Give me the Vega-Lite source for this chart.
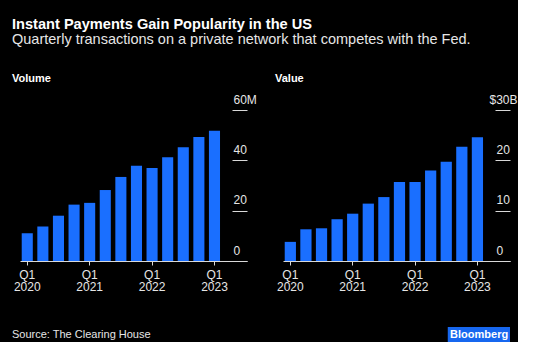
{
  "$schema": "https://vega.github.io/schema/vega-lite/v6.json",
  "background": "black",
  "padding": {"left": 12, "top": 17, "right": 0, "bottom": 0},
  "config": {
    "font": "Liberation Sans",
    "view": {"stroke": null},
    "title": {"color": "white", "font": "Liberation Sans"}
  },
  "title": {
    "text": "Instant Payments Gain Popularity in the US",
    "subtitle": "Quarterly transactions on a private network that competes with the Fed.",
    "anchor": "start",
    "frame": "group",
    "dx": -8,
    "fontSize": 14.6,
    "fontWeight": "bold",
    "color": "white",
    "subtitleFontSize": 14.5,
    "subtitleColor": "#e6e6e6",
    "subtitleFont": "Liberation Sans",
    "subtitlePadding": 1,
    "offset": 26.7
  },
  "datasets": {
    "payments": [
      {"quarter": "Q1 2020", "volume": 11.0, "value": 3.8},
      {"quarter": "Q2 2020", "volume": 13.7, "value": 6.3},
      {"quarter": "Q3 2020", "volume": 18.0, "value": 6.5},
      {"quarter": "Q4 2020", "volume": 22.4, "value": 8.3},
      {"quarter": "Q1 2021", "volume": 23.1, "value": 9.4},
      {"quarter": "Q2 2021", "volume": 28.2, "value": 11.4},
      {"quarter": "Q3 2021", "volume": 33.4, "value": 12.7},
      {"quarter": "Q4 2021", "volume": 37.8, "value": 15.7},
      {"quarter": "Q1 2022", "volume": 37.0, "value": 15.7},
      {"quarter": "Q2 2022", "volume": 41.2, "value": 18.0},
      {"quarter": "Q3 2022", "volume": 45.2, "value": 19.7},
      {"quarter": "Q4 2022", "volume": 49.3, "value": 22.7},
      {"quarter": "Q1 2023", "volume": 51.8, "value": 24.6}
    ],
    "source": [{"label": "Source: The Clearing House"}],
    "logo": [{"label": "Bloomberg"}]
  },
  "vconcat": [
    {
      "hconcat": [
        {
          "data": {"name": "payments"},
          "width": 227,
          "height": 151,
          "title": {"text": "Volume", "anchor": "start", "frame": "group", "dx": -8, "fontSize": 11, "fontWeight": "bold", "color": "white", "offset": 9},
          "mark": {"type": "bar", "color": "#1a6fff"},
          "encoding": {
            "x": {
              "field": "quarter", "type": "ordinal", "sort": null,
              "scale": {"paddingInner": 0.29, "paddingOuter": 0.92, "align": 0.06},
              "axis": {
                "title": null, "domain": false, "labelAngle": 0,
                "values": ["Q1 2020", "Q1 2021", "Q1 2022", "Q1 2023"],
                "labelExpr": "split(datum.label, ' ')",
                "tickSize": 4, "tickColor": "#d9d9d9", "labelPadding": 4,
                "labelFontSize": 12, "labelColor": "#e6e6e6", "labelLineHeight": 12.5
              }
            },
            "y": {
              "field": "volume", "type": "quantitative",
              "scale": {"domain": [0, 60]},
              "axis": {
                "title": null, "orient": "right", "offset": -15, "values": [0, 20, 40, 60],
                "domain": false, "tickSize": 15, "tickColor": "#d9d9d9",
                "labelAlign": "left", "labelBaseline": "bottom", "labelPadding": -14, "labelOffset": -4,
                "labelExpr": "datum.value == 60 ? '60M' : datum.label",
                "labelFontSize": 12, "labelColor": "#e6e6e6",
                "grid": true, "gridColor": "#d9d9d9",
                "gridOpacity": {"condition": {"test": "datum.value === 0", "value": 1}, "value": 0}
              }
            }
          }
        },
        {
          "data": {"name": "payments"},
          "width": 227,
          "height": 151,
          "title": {"text": "Value", "anchor": "start", "frame": "group", "dx": -8, "fontSize": 11, "fontWeight": "bold", "color": "white", "offset": 9},
          "mark": {"type": "bar", "color": "#1a6fff"},
          "encoding": {
            "x": {
              "field": "quarter", "type": "ordinal", "sort": null,
              "scale": {"paddingInner": 0.28, "paddingOuter": 0.92, "align": 0.06},
              "axis": {
                "title": null, "domain": false, "labelAngle": 0,
                "values": ["Q1 2020", "Q1 2021", "Q1 2022", "Q1 2023"],
                "labelExpr": "split(datum.label, ' ')",
                "tickSize": 4, "tickColor": "#d9d9d9", "labelPadding": 4,
                "labelFontSize": 12, "labelColor": "#e6e6e6", "labelLineHeight": 12.5
              }
            },
            "y": {
              "field": "value", "type": "quantitative",
              "scale": {"domain": [0, 30]},
              "axis": {
                "title": null, "orient": "right", "offset": -15, "values": [0, 10, 20, 30],
                "domain": false, "tickSize": 15, "tickColor": "#d9d9d9",
                "labelAlign": "left", "labelBaseline": "bottom",
                "labelPadding": {"condition": {"test": "datum.value === 30", "value": -21}, "value": -14},
                "labelOffset": -4,
                "labelExpr": "datum.value == 30 ? '$30B' : datum.label",
                "labelFontSize": 12, "labelColor": "#e6e6e6",
                "grid": true, "gridColor": "#d9d9d9",
                "gridOpacity": {"condition": {"test": "datum.value === 0", "value": 1}, "value": 0}
              }
            }
          }
        }
      ],
      "spacing": 36,
      "bounds": "flush"
    },
    {
      "width": 490,
      "height": 15,
      "layer": [
        {
          "data": {"name": "source"},
          "mark": {"type": "text", "align": "left", "baseline": "middle", "dx": -8, "fontSize": 11, "color": "#e6e6e6"},
          "encoding": {
            "text": {"field": "label"},
            "x": {"datum": 0, "type": "quantitative", "scale": {"domain": [0, 1]}, "axis": null},
            "y": {"datum": 0.5, "type": "quantitative", "scale": {"domain": [0, 1]}, "axis": null}
          }
        },
        {
          "data": {"name": "logo"},
          "mark": {"type": "rect", "color": "#1767ef"},
          "encoding": {
            "x": {"datum": 0.873, "type": "quantitative", "scale": {"domain": [0, 1]}, "axis": null},
            "x2": {"datum": 1},
            "y": {"datum": 0, "type": "quantitative", "scale": {"domain": [0, 1]}, "axis": null},
            "y2": {"datum": 1}
          }
        },
        {
          "data": {"name": "logo"},
          "mark": {"type": "text", "align": "center", "baseline": "middle", "fontSize": 11, "fontWeight": "bold", "color": "white"},
          "encoding": {
            "text": {"field": "label"},
            "x": {"datum": 0.937, "type": "quantitative", "scale": {"domain": [0, 1]}, "axis": null},
            "y": {"datum": 0.5, "type": "quantitative", "scale": {"domain": [0, 1]}, "axis": null}
          }
        }
      ]
    }
  ],
  "spacing": 34
}
